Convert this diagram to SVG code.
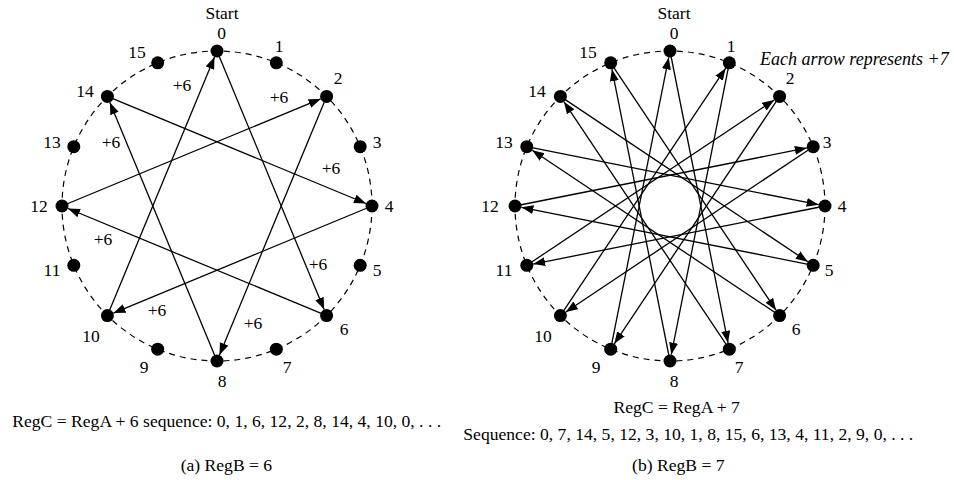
<svg xmlns="http://www.w3.org/2000/svg" width="954" height="480" viewBox="0 0 954 480">
<style>
text{font-family:"Liberation Serif","Times New Roman",serif;font-size:17.5px;fill:#000;text-anchor:middle}
.ring{fill:none;stroke:#000;stroke-width:1.2;stroke-dasharray:6 5}
.dot{fill:#000}
.arr{stroke:#000;stroke-width:1.3;fill:none;marker-end:url(#ah)}
.it{font-style:italic;text-anchor:start;font-size:18px}
.cap{font-size:17.6px}
</style>
<defs>
<marker id="ah" markerUnits="userSpaceOnUse" markerWidth="13" markerHeight="10" refX="12" refY="4.5" orient="auto">
<path d="M0,0 L12,4.5 L0,9 z" fill="#000"/>
</marker>
</defs>
<rect width="954" height="480" fill="#fff"/>

<g id="ringA"><circle class="ring" cx="217" cy="206" r="155"/></g>
<g id="ringB"><circle class="ring" cx="670" cy="206" r="155"/></g>

<g id="connectors">
<line class="arr" x1="217" y1="51" x2="324.11" y2="309.59"/>
<line class="arr" x1="326.6" y1="315.6" x2="68.01" y2="208.49"/>
<line class="arr" x1="62" y1="206" x2="320.59" y2="98.89"/>
<line class="arr" x1="326.6" y1="96.4" x2="219.49" y2="354.99"/>
<line class="arr" x1="217" y1="361" x2="109.89" y2="102.41"/>
<line class="arr" x1="107.4" y1="96.4" x2="365.99" y2="203.51"/>
<line class="arr" x1="372" y1="206" x2="113.41" y2="313.11"/>
<line class="arr" x1="107.4" y1="315.6" x2="214.51" y2="57.01"/>

<line class="arr" x1="670" y1="51" x2="728.05" y2="342.82"/>
<line class="arr" x1="729.32" y1="349.2" x2="564.01" y2="101.8"/>
<line class="arr" x1="560.4" y1="96.4" x2="807.8" y2="261.71"/>
<line class="arr" x1="813.2" y1="265.32" x2="521.38" y2="207.27"/>
<line class="arr" x1="515" y1="206" x2="806.82" y2="147.95"/>
<line class="arr" x1="813.2" y1="146.68" x2="565.8" y2="311.99"/>
<line class="arr" x1="560.4" y1="315.6" x2="725.71" y2="68.2"/>
<line class="arr" x1="729.32" y1="62.8" x2="671.27" y2="354.62"/>
<line class="arr" x1="670" y1="361" x2="611.95" y2="69.18"/>
<line class="arr" x1="610.68" y1="62.8" x2="775.99" y2="310.2"/>
<line class="arr" x1="779.6" y1="315.6" x2="532.2" y2="150.29"/>
<line class="arr" x1="526.8" y1="146.68" x2="818.62" y2="204.73"/>
<line class="arr" x1="825" y1="206" x2="533.18" y2="264.05"/>
<line class="arr" x1="526.8" y1="265.32" x2="774.2" y2="100.01"/>
<line class="arr" x1="779.6" y1="96.4" x2="614.29" y2="343.8"/>
<line class="arr" x1="610.68" y1="349.2" x2="668.73" y2="57.38"/>
</g>

<g id="a-n0"><circle class="dot" cx="217" cy="51" r="6.5"/><text x="222" y="18.5">Start</text><text x="221.7" y="38.5">0</text></g>
<g id="a-n1"><circle class="dot" cx="276.32" cy="62.8" r="6.5"/><text x="279" y="52">1</text></g>
<g id="a-n2"><circle class="dot" cx="326.6" cy="96.4" r="6.5"/><text x="338" y="84">2</text></g>
<g id="a-n3"><circle class="dot" cx="360.2" cy="146.68" r="6.5"/><text x="377" y="148">3</text></g>
<g id="a-n4"><circle class="dot" cx="372" cy="206" r="6.5"/><text x="389" y="212">4</text></g>
<g id="a-n5"><circle class="dot" cx="360.2" cy="265.32" r="6.5"/><text x="377" y="276">5</text></g>
<g id="a-n6"><circle class="dot" cx="326.6" cy="315.6" r="6.5"/><text x="344" y="335">6</text></g>
<g id="a-n7"><circle class="dot" cx="276.32" cy="349.2" r="6.5"/><text x="287" y="373">7</text></g>
<g id="a-n8"><circle class="dot" cx="217" cy="361" r="6.5"/><text x="222" y="387">8</text></g>
<g id="a-n9"><circle class="dot" cx="157.68" cy="349.2" r="6.5"/><text x="144" y="373">9</text></g>
<g id="a-n10"><circle class="dot" cx="107.4" cy="315.6" r="6.5"/><text x="91" y="342">10</text></g>
<g id="a-n11"><circle class="dot" cx="73.8" cy="265.32" r="6.5"/><text x="52" y="276">11</text></g>
<g id="a-n12"><circle class="dot" cx="62" cy="206" r="6.5"/><text x="39" y="212">12</text></g>
<g id="a-n13"><circle class="dot" cx="73.8" cy="146.68" r="6.5"/><text x="52" y="148">13</text></g>
<g id="a-n14"><circle class="dot" cx="107.4" cy="96.4" r="6.5"/><text x="85" y="97">14</text></g>
<g id="a-n15"><circle class="dot" cx="157.68" cy="62.8" r="6.5"/><text x="137" y="58">15</text></g>

<g id="a-labels">
<text x="182" y="91">+6</text>
<text x="279" y="103">+6</text>
<text x="111" y="148">+6</text>
<text x="331" y="174">+6</text>
<text x="103" y="245">+6</text>
<text x="318" y="270">+6</text>
<text x="157" y="316">+6</text>
<text x="253" y="329">+6</text>
</g>

<g id="b-n0"><circle class="dot" cx="670" cy="51" r="6.5"/><text x="674" y="18.5">Start</text><text x="674" y="38.5">0</text></g>
<g id="b-n1"><circle class="dot" cx="729.32" cy="62.8" r="6.5"/><text x="731" y="52">1</text></g>
<g id="b-n2"><circle class="dot" cx="779.6" cy="96.4" r="6.5"/><text x="790" y="84">2</text></g>
<g id="b-n3"><circle class="dot" cx="813.2" cy="146.68" r="6.5"/><text x="827" y="148">3</text></g>
<g id="b-n4"><circle class="dot" cx="825" cy="206" r="6.5"/><text x="842" y="212">4</text></g>
<g id="b-n5"><circle class="dot" cx="813.2" cy="265.32" r="6.5"/><text x="829" y="276">5</text></g>
<g id="b-n6"><circle class="dot" cx="779.6" cy="315.6" r="6.5"/><text x="796" y="335">6</text></g>
<g id="b-n7"><circle class="dot" cx="729.32" cy="349.2" r="6.5"/><text x="739" y="373">7</text></g>
<g id="b-n8"><circle class="dot" cx="670" cy="361" r="6.5"/><text x="674" y="387">8</text></g>
<g id="b-n9"><circle class="dot" cx="610.68" cy="349.2" r="6.5"/><text x="596" y="373">9</text></g>
<g id="b-n10"><circle class="dot" cx="560.4" cy="315.6" r="6.5"/><text x="543" y="342">10</text></g>
<g id="b-n11"><circle class="dot" cx="526.8" cy="265.32" r="6.5"/><text x="504" y="276">11</text></g>
<g id="b-n12"><circle class="dot" cx="515" cy="206" r="6.5"/><text x="490" y="212">12</text></g>
<g id="b-n13"><circle class="dot" cx="526.8" cy="146.68" r="6.5"/><text x="504" y="148">13</text></g>
<g id="b-n14"><circle class="dot" cx="560.4" cy="96.4" r="6.5"/><text x="537" y="97">14</text></g>
<g id="b-n15"><circle class="dot" cx="610.68" cy="62.8" r="6.5"/><text x="588" y="58">15</text></g>

<g id="captions">
<text class="it" x="760" y="65">Each arrow represents +7</text>
<text class="cap" x="226.7" y="427">RegC = RegA + 6 sequence: 0, 1, 6, 12, 2, 8, 14, 4, 10, 0, . . .</text>
<text class="cap" x="226.4" y="471">(a) RegB = 6</text>
<text class="cap" x="676.7" y="412.5">RegC = RegA + 7</text>
<text class="cap" x="688.3" y="440">Sequence: 0, 7, 14, 5, 12, 3, 10, 1, 8, 15, 6, 13, 4, 11, 2, 9, 0, . . .</text>
<text class="cap" x="678.3" y="471">(b) RegB = 7</text>
</g>
</svg>
